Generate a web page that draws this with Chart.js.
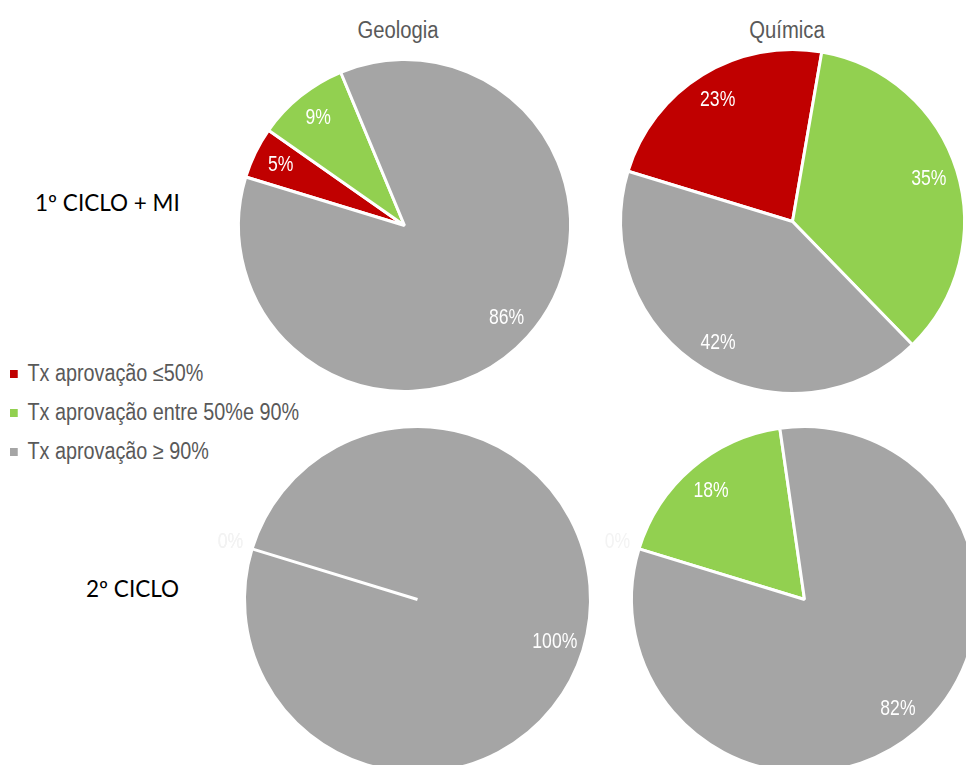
<!DOCTYPE html>
<html lang="pt">
<head>
<meta charset="UTF-8">
<title>Taxa de aprovação - Geologia e Química</title>
<script src="https://cdn.jsdelivr.net/npm/chart.js"></script>
<style>
    body {
        margin: 0;
        width: 966px;
        height: 765px;
        overflow: hidden;
        background: #fff;
        position: relative;
        font-family: "Liberation Sans", Arial, sans-serif;
    }
    canvas { position: absolute; }
    .title {
        position: absolute;
        color: #595959;
        font-size: 23px;
        transform: translate(-50%, -50%) scaleX(0.88);
        white-space: nowrap;
    }
    .row-label {
        position: absolute;
        font-family: Lato, "Open Sans", sans-serif;
        font-size: 22.5px;
        color: #000;
        transform: translateY(-50%);
        white-space: nowrap;
    }
    .legend {
        position: absolute;
        left: 10px;
        top: 359px;
        transform: scaleX(0.86);
        transform-origin: 0 0;
    }
    .legend div {
        height: 39px;
        line-height: 29px;
        color: #595959;
        font-size: 23px;
        white-space: nowrap;
    }
    .legend span {
        display: inline-block;
        width: 9.3px;
        height: 8px;
        margin-right: 11px;
        vertical-align: 3px;
    }
</style>
</head>
<body>
<div class="title" style="left:398px; top:30px;">Geologia</div>
<div class="title" style="left:787px; top:30px;">Química</div>
<div class="row-label" style="left:35px; top:202px;">1º CICLO + MI</div>
<div class="row-label" style="left:86px; top:588px;">2º CICLO</div>
<div class="legend" id="legend"></div>

<canvas id="geo1"></canvas>
<canvas id="qui1"></canvas>
<canvas id="geo2"></canvas>
<canvas id="qui2"></canvas>

<script>
    // categorias e cores
    const categorias = ['Tx aprovação ≤50%', 'Tx aprovação entre 50%e 90%', 'Tx aprovação ≥ 90%'];
    const cores = ['#C00000', '#92D050', '#A5A5A5'];

    // valores em percentagem
    const geologia1Ciclo = [5, 9, 86];
    const quimica1Ciclo = [23, 35, 42];
    const geologia2Ciclo = [0, 0, 100];
    const quimica2Ciclo = [0, 18, 82];

    const PAD = 45;      // espaço à volta para os rótulos de 0%
    const BORDA = 3;

    // legenda partilhada
    const legendDiv = document.getElementById('legend');
    categorias.forEach((c, i) => {
        const row = document.createElement('div');
        row.innerHTML = '<span style="background:' + cores[i] + '"></span>' + c;
        legendDiv.appendChild(row);
    });

    // rótulos de percentagem dentro das fatias (letra estreita)
    const rotulos = {
        id: 'rotulos',
        afterDatasetsDraw(chart) {
            const ctx = chart.ctx;
            const meta = chart.getDatasetMeta(0);
            const dados = chart.data.datasets[0].data;
            meta.data.forEach((arc, i) => {
                const p = arc.getProps(['x', 'y', 'startAngle', 'endAngle', 'outerRadius'], true);
                const meio = (p.startAngle + p.endAngle) / 2;
                const zero = dados[i] === 0;
                const dist = p.outerRadius * (zero ? 1.13 : 0.83);
                ctx.save();
                ctx.translate(p.x + Math.cos(meio) * dist, p.y + Math.sin(meio) * dist);
                ctx.scale(0.8, 1);
                ctx.font = '22px "Liberation Sans", Arial, sans-serif';
                ctx.textAlign = 'center';
                ctx.textBaseline = 'middle';
                ctx.fillStyle = zero ? '#f3f3f3' : '#ffffff';
                ctx.fillText(dados[i] + '%', 0, 0);
                ctx.restore();
            });
        }
    };

    function desenharPie(id, valores, cx, cy, raio) {
        const canvas = document.getElementById(id);
        const size = 2 * raio + BORDA + 2 * PAD;
        canvas.width = size;
        canvas.height = size;
        canvas.style.left = (cx - size / 2) + 'px';
        canvas.style.top = (cy - size / 2) + 'px';
        new Chart(canvas.getContext('2d'), {
            type: 'pie',
            data: {
                labels: categorias,
                datasets: [{
                    data: valores,
                    backgroundColor: cores,
                    borderColor: '#ffffff',
                    borderWidth: BORDA,
                    hoverBorderWidth: BORDA,
                    hoverOffset: 0
                }]
            },
            options: {
                responsive: false,
                animation: false,
                rotation: 287,
                layout: { padding: PAD },
                plugins: {
                    legend: { display: false },
                    tooltip: { enabled: false }
                }
            },
            plugins: [rotulos]
        });
    }

    desenharPie('geo1', geologia1Ciclo, 404, 225, 166);
    desenharPie('qui1', quimica1Ciclo, 792, 221, 172);
    desenharPie('geo2', geologia2Ciclo, 417, 599, 173);
    desenharPie('qui2', quimica2Ciclo, 804, 599, 173);
</script>
</body>
</html>
